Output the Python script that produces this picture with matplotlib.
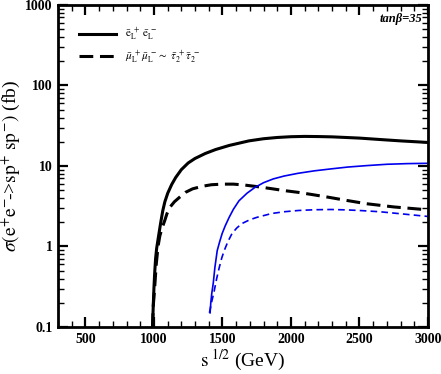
import numpy as np
import matplotlib
matplotlib.use("Agg")
import matplotlib.pyplot as plt
from matplotlib.ticker import FixedLocator, NullFormatter

plt.rcParams['font.family'] = ['Liberation Serif', 'DejaVu Serif']
plt.rcParams['mathtext.fontset'] = 'stix'

# --- data ---
# e_L e_L (black solid)
x_eL = [990, 995, 1000, 1005, 1012, 1020, 1034, 1050, 1065, 1080, 1101, 1130,
        1159, 1200, 1250, 1300, 1375, 1450, 1550, 1693, 1800, 1900, 2000,
        2100, 2200, 2300, 2400, 2500, 2653, 2800, 3000]
y_eL = [0.1, 0.18, 0.3, 0.45, 0.7, 0.95, 1.35, 2.0, 2.8, 3.6, 4.6, 5.9,
        7.2, 9.0, 10.9, 12.4, 14.3, 16.0, 18.0, 20.5, 21.8, 22.6, 23.1,
        23.3, 23.2, 23.0, 22.6, 22.2, 21.3, 20.5, 19.6]

# mu_L mu_L ~ tau_2 tau_2 (black dashed)
x_mu = [990, 995, 1005, 1017, 1030, 1043, 1060, 1079, 1095, 1115, 1150, 1188,
        1230, 1282, 1354, 1420, 1500, 1580, 1660, 1750, 1850, 1950, 2054,
        2160, 2270, 2400, 2550, 2750, 3000]
y_mu = [0.1, 0.18, 0.3, 0.6, 1.0, 1.35, 1.7, 2.1, 2.55, 3.05, 3.6, 4.1,
        4.7, 5.2, 5.6, 5.85, 5.95, 5.95, 5.8, 5.55, 5.25, 4.95, 4.7,
        4.4, 4.1, 3.75, 3.4, 3.1, 2.85]

# blue solid
x_b1 = [1410, 1415, 1422, 1433, 1445, 1462, 1480, 1498, 1520, 1549, 1580,
        1621, 1680, 1736, 1800, 1870, 1950, 2050, 2170, 2292, 2415, 2550,
        2700, 2850, 3000]
y_b1 = [0.15, 0.2, 0.26, 0.35, 0.55, 0.89, 1.15, 1.45, 1.8, 2.3, 2.9,
        3.7, 4.6, 5.4, 6.2, 6.9, 7.5, 8.1, 8.7, 9.2, 9.7, 10.1,
        10.5, 10.7, 10.8]

# blue dashed
x_b2 = [1405, 1420, 1440, 1458, 1477, 1495, 1513, 1540, 1570, 1605, 1643,
        1700, 1751, 1860, 1950, 2054, 2170, 2292, 2400, 2500, 2650, 2800, 3000]
y_b2 = [0.15, 0.2, 0.28, 0.4, 0.55, 0.72, 0.89, 1.15, 1.45, 1.7, 1.93,
        2.15, 2.3, 2.57, 2.7, 2.8, 2.86, 2.88, 2.85, 2.8, 2.7, 2.55, 2.36]

leg_labels = [r'$\bar{\mathrm{e}}_{\mathrm{L}}^{\ +}\ \bar{\mathrm{e}}_{\mathrm{L}}^{\ -}$',
              r'$\bar{\mu}_{\mathrm{L}}^{\ +}\bar{\mu}_{\mathrm{L}}^{\ -}\sim\ '
              r'\bar{\tau}_{2}^{\ +}\bar{\tau}_{2}^{\ -}$']

fig = plt.figure(figsize=(4.41, 3.74), dpi=100)
ax = fig.add_axes([0.1315, 0.1257, 0.839, 0.861])

ax.plot(x_eL, y_eL, color='black', lw=2.2, label=leg_labels[0])
ax.plot(x_mu, y_mu, color='black', lw=2.2, ls=(0, (4.5, 2.2)), label=leg_labels[1])
ax.plot(x_b1, y_b1, color='#0000ee', lw=1.2)
ax.plot(x_b2, y_b2, color='#0000ee', lw=1.2, ls=(0, (4, 2.5)))

ax.set_yscale('log')
ax.set_xlim(300, 3000)
ax.set_ylim(0.1, 1000)

ax.set_xticks([500, 1000, 1500, 2000, 2500, 3000])
ax.xaxis.set_minor_locator(FixedLocator(np.arange(300, 3001, 100)))
ax.set_yticks([0.1, 1, 10, 100, 1000])
ax.set_yticklabels(['0.1', '1', '10', '100', '1000'])
ax.yaxis.set_minor_formatter(NullFormatter())

for lbl in ax.get_xticklabels() + ax.get_yticklabels():
    lbl.set_fontweight('bold')
    lbl.set_fontsize(10)

ax.tick_params(which='major', direction='in', length=7, width=1.6,
               top=True, right=True, pad=4)
ax.tick_params(which='minor', direction='in', length=4, width=1.0,
               top=True, right=True)
for sp in ax.spines.values():
    sp.set_linewidth(2)

ax.set_xlabel(r'$\mathrm{s}^{\ 1/2}$ (GeV)', fontsize=14, labelpad=2)
ax.set_ylabel(r'$\sigma(\mathrm{e}^{+}\mathrm{e}^{-}\!$->$\mathrm{sp}^{+}\ \mathrm{sp}^{-})$ (fb)',
              fontsize=14, labelpad=2)

ax.text(0.985, 0.955, 'tanβ=35', transform=ax.transAxes, ha='right', va='center',
        fontsize=9, fontweight='bold', fontstyle='italic')

ax.legend(loc='upper left', bbox_to_anchor=(0.03, 0.965), frameon=False,
          fontsize=8, handlelength=3.3, handletextpad=0.8,
          labelspacing=0.5, borderaxespad=0.5)

fig.savefig('out.png', dpi=100)
